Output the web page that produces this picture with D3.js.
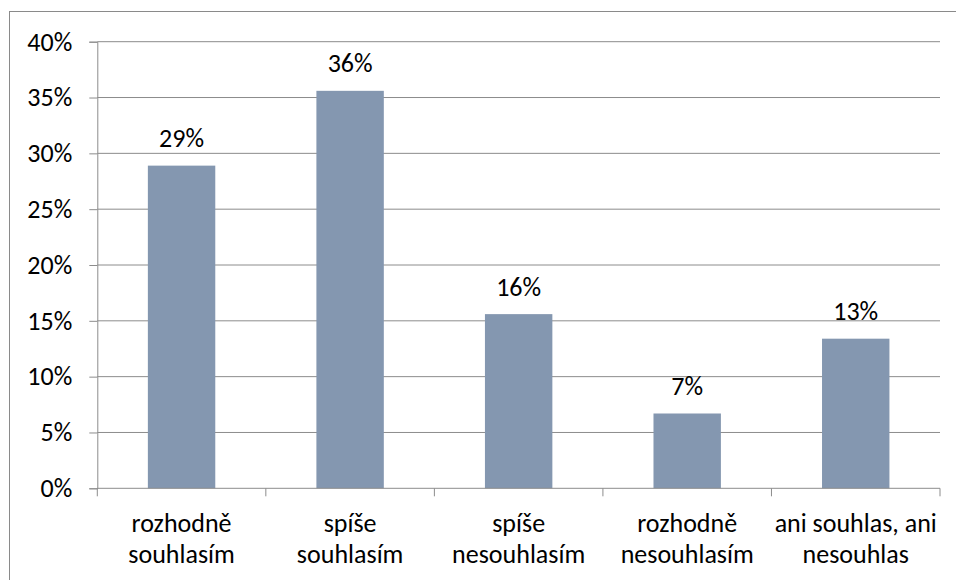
<!DOCTYPE html>
<html>
<head>
<meta charset="utf-8">
<script src="https://cdn.jsdelivr.net/npm/d3@7"></script>
<style>
  html, body { margin: 0; padding: 0; background: #fff; }
  svg text { font-family: Carlito, Calibri, Lato, "Open Sans", sans-serif; fill: #000; }
</style>
</head>
<body>
<svg id="chart" width="956" height="580"></svg>
<script>
// Survey answers and their shares
const categories = [
  ["rozhodně", "souhlasím"],
  ["spíše", "souhlasím"],
  ["spíše", "nesouhlasím"],
  ["rozhodně", "nesouhlasím"],
  ["ani souhlas, ani", "nesouhlas"]
];
const shares = [0.289, 0.356, 0.156, 0.067, 0.134];
const yTicks = [0, 0.05, 0.10, 0.15, 0.20, 0.25, 0.30, 0.35, 0.40];

const svg = d3.select("#chart");
const W = 956, H = 580;
const plot = { left: 97.3, right: 940, top: 41.7, bottom: 488.3 };
const fontSize = 26;
const gridColor = "#8c8c8c";

// Outer chart frame (runs off the right and bottom edges)
svg.append("rect")
  .attr("x", 9.5).attr("y", 11.5)
  .attr("width", W + 10).attr("height", H + 10)
  .attr("fill", "none").attr("stroke", "#8a8a8a").attr("stroke-width", 1);

const x = d3.scaleBand()
  .domain(d3.range(categories.length))
  .range([plot.left, plot.right])
  .paddingInner(0.6)
  .paddingOuter(0.3);

const y = d3.scaleLinear().domain([0, 0.4]).range([plot.bottom, plot.top]);

// Horizontal gridlines
svg.append("g")
  .selectAll("line")
  .data(yTicks.slice(1))
  .join("line")
  .attr("x1", plot.left).attr("x2", plot.right)
  .attr("y1", d => y(d)).attr("y2", d => y(d))
  .attr("stroke", gridColor).attr("stroke-width", 1);

// Bars
svg.append("g")
  .selectAll("rect")
  .data(shares)
  .join("rect")
  .attr("x", (d, i) => x(i))
  .attr("width", x.bandwidth())
  .attr("y", d => y(d))
  .attr("height", d => y(0) - y(d))
  .attr("fill", "#8497b0");

// Value labels
const pct = d3.format(".0%");
svg.append("g")
  .selectAll("text")
  .data(shares)
  .join("text")
  .attr("x", (d, i) => x(i) + x.bandwidth() / 2)
  .attr("y", d => y(d) - 18.5)
  .attr("text-anchor", "middle")
  .attr("font-size", fontSize)
  .text(d => pct(d));

// Y axis
const yAxis = d3.axisLeft(y)
  .tickValues(yTicks)
  .tickFormat(pct)
  .tickSize(8)
  .tickPadding(17);
const gy = svg.append("g")
  .attr("transform", `translate(${plot.left},0)`)
  .call(yAxis);
gy.selectAll(".domain, .tick line").attr("stroke", gridColor);
gy.selectAll("text").attr("font-size", fontSize).attr("fill", "#000");
gy.attr("font-family", null).attr("font-size", null);

// X axis: tick marks at category boundaries
const step = x.step();
const boundaries = d3.range(categories.length + 1).map(i => plot.left + i * step);
const gx = svg.append("g");
gx.append("line")
  .attr("x1", plot.left).attr("x2", plot.right)
  .attr("y1", plot.bottom).attr("y2", plot.bottom)
  .attr("stroke", gridColor);
gx.selectAll("line.tick")
  .data(boundaries)
  .join("line")
  .attr("class", "tick")
  .attr("x1", d => d).attr("x2", d => d)
  .attr("y1", plot.bottom).attr("y2", plot.bottom + 8)
  .attr("stroke", gridColor);

// Category labels, two lines each
const labels = gx.selectAll("text")
  .data(categories)
  .join("text")
  .attr("text-anchor", "middle")
  .attr("font-size", fontSize)
  .attr("x", (d, i) => x(i) + x.bandwidth() / 2);
labels.selectAll("tspan")
  .data(d => d)
  .join("tspan")
  .attr("x", function() { return d3.select(this.parentNode).attr("x"); })
  .attr("y", (d, j) => 532 + j * 30.5)
  .text(d => d);
</script>
</body>
</html>
